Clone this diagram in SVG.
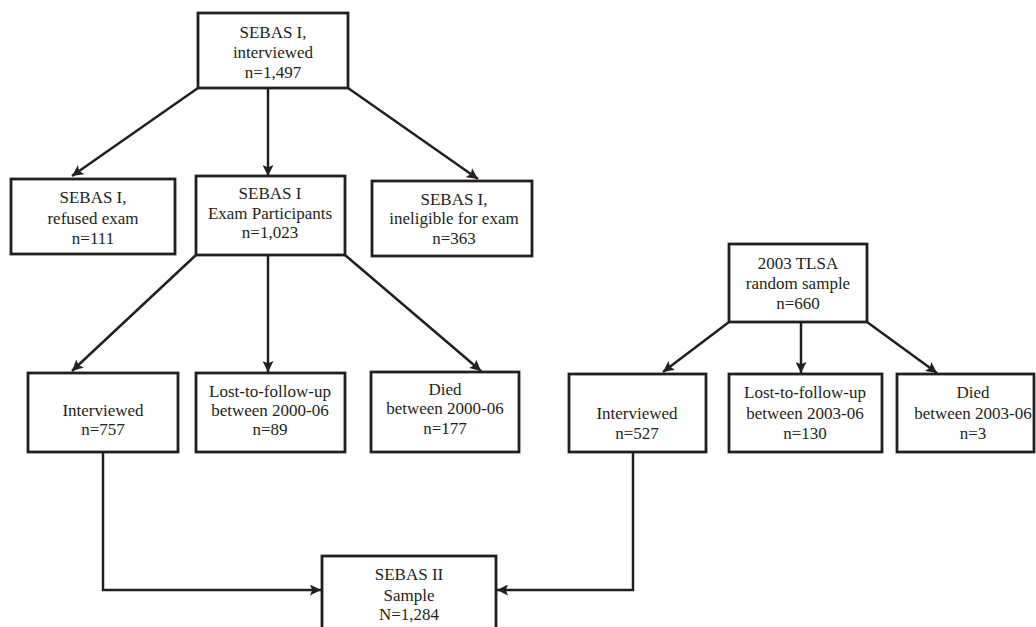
<svg xmlns="http://www.w3.org/2000/svg" width="1036" height="627" viewBox="0 0 1036 627">
<style>
.box{fill:#fff;stroke:#231f20;stroke-width:2.8}
.t{font-family:"Liberation Serif","Times New Roman",serif;font-size:17px;fill:#231f20;text-anchor:middle}
.c{fill:none;stroke:#231f20;stroke-width:2.5}
</style>
<defs>
<marker id="ah" viewBox="0 0 10 10" refX="10" refY="5" markerWidth="11" markerHeight="11" markerUnits="userSpaceOnUse" orient="auto">
<path d="M0,0 L10,5 L0,10 L2,5 Z" fill="#231f20"/>
</marker>
</defs>
<rect width="1036" height="627" fill="#fff"/>
<g id="connectors">
<line class="c" x1="198" y1="88" x2="72" y2="176" marker-end="url(#ah)"/>
<line class="c" x1="268" y1="88" x2="268" y2="176" marker-end="url(#ah)"/>
<line class="c" x1="348" y1="88" x2="478" y2="179" marker-end="url(#ah)"/>
<line class="c" x1="196" y1="255" x2="72" y2="371" marker-end="url(#ah)"/>
<line class="c" x1="268" y1="255" x2="268" y2="372" marker-end="url(#ah)"/>
<line class="c" x1="345" y1="255" x2="481" y2="371" marker-end="url(#ah)"/>
<line class="c" x1="729" y1="322" x2="663" y2="372" marker-end="url(#ah)"/>
<line class="c" x1="801" y1="322" x2="801" y2="373" marker-end="url(#ah)"/>
<line class="c" x1="867" y1="322" x2="937" y2="373" marker-end="url(#ah)"/>
<polyline class="c" points="103,452 103,590 321,590" marker-end="url(#ah)"/>
<polyline class="c" points="633,452 633,590 497,590" marker-end="url(#ah)"/>
</g>
<g id="n-top">
<rect class="box" x="198" y="13" width="150" height="75"/>
<text class="t" x="273" y="38">SEBAS I,</text>
<text class="t" x="273" y="58">interviewed</text>
<text class="t" x="273" y="78">n=1,497</text>
</g>
<g id="n-refused">
<rect class="box" x="11" y="179" width="164" height="75"/>
<text class="t" x="93" y="203">SEBAS I,</text>
<text class="t" x="93" y="224">refused exam</text>
<text class="t" x="93" y="244">n=111</text>
</g>
<g id="n-exam">
<rect class="box" x="196" y="176" width="149" height="79"/>
<text class="t" x="270" y="199">SEBAS I</text>
<text class="t" x="270" y="219">Exam Participants</text>
<text class="t" x="270" y="238">n=1,023</text>
</g>
<g id="n-inelig">
<rect class="box" x="372" y="181" width="160" height="75"/>
<text class="t" x="454" y="205">SEBAS I,</text>
<text class="t" x="454" y="224">ineligible for exam</text>
<text class="t" x="454" y="244">n=363</text>
</g>
<g id="n-int1">
<rect class="box" x="28" y="373" width="150" height="79"/>
<text class="t" x="103" y="416">Interviewed</text>
<text class="t" x="103" y="435">n=757</text>
</g>
<g id="n-lost1">
<rect class="box" x="196" y="373" width="149" height="79"/>
<text class="t" x="270" y="397">Lost-to-follow-up</text>
<text class="t" x="270" y="416">between 2000-06</text>
<text class="t" x="270" y="435">n=89</text>
</g>
<g id="n-died1">
<rect class="box" x="371" y="372" width="148" height="80"/>
<text class="t" x="445" y="395">Died</text>
<text class="t" x="445" y="414">between 2000-06</text>
<text class="t" x="445" y="434">n=177</text>
</g>
<g id="n-tlsa">
<rect class="box" x="729" y="244" width="138" height="78"/>
<text class="t" x="798" y="269">2003 TLSA</text>
<text class="t" x="798" y="289">random sample</text>
<text class="t" x="798" y="309">n=660</text>
</g>
<g id="n-int2">
<rect class="box" x="569" y="374" width="137" height="78"/>
<text class="t" x="637" y="419">Interviewed</text>
<text class="t" x="637" y="439">n=527</text>
</g>
<g id="n-lost2">
<rect class="box" x="729" y="374" width="153" height="78"/>
<text class="t" x="805" y="398">Lost-to-follow-up</text>
<text class="t" x="805" y="419">between 2003-06</text>
<text class="t" x="805" y="439">n=130</text>
</g>
<g id="n-died2">
<rect class="box" x="897" y="374" width="137" height="78"/>
<text class="t" x="973" y="398">Died</text>
<text class="t" x="973" y="419">between 2003-06</text>
<text class="t" x="973" y="439">n=3</text>
</g>
<g id="n-sebas2">
<rect class="box" x="322" y="556" width="174" height="80"/>
<text class="t" x="409" y="580">SEBAS II</text>
<text class="t" x="409" y="601">Sample</text>
<text class="t" x="409" y="620">N=1,284</text>
</g>
</svg>
